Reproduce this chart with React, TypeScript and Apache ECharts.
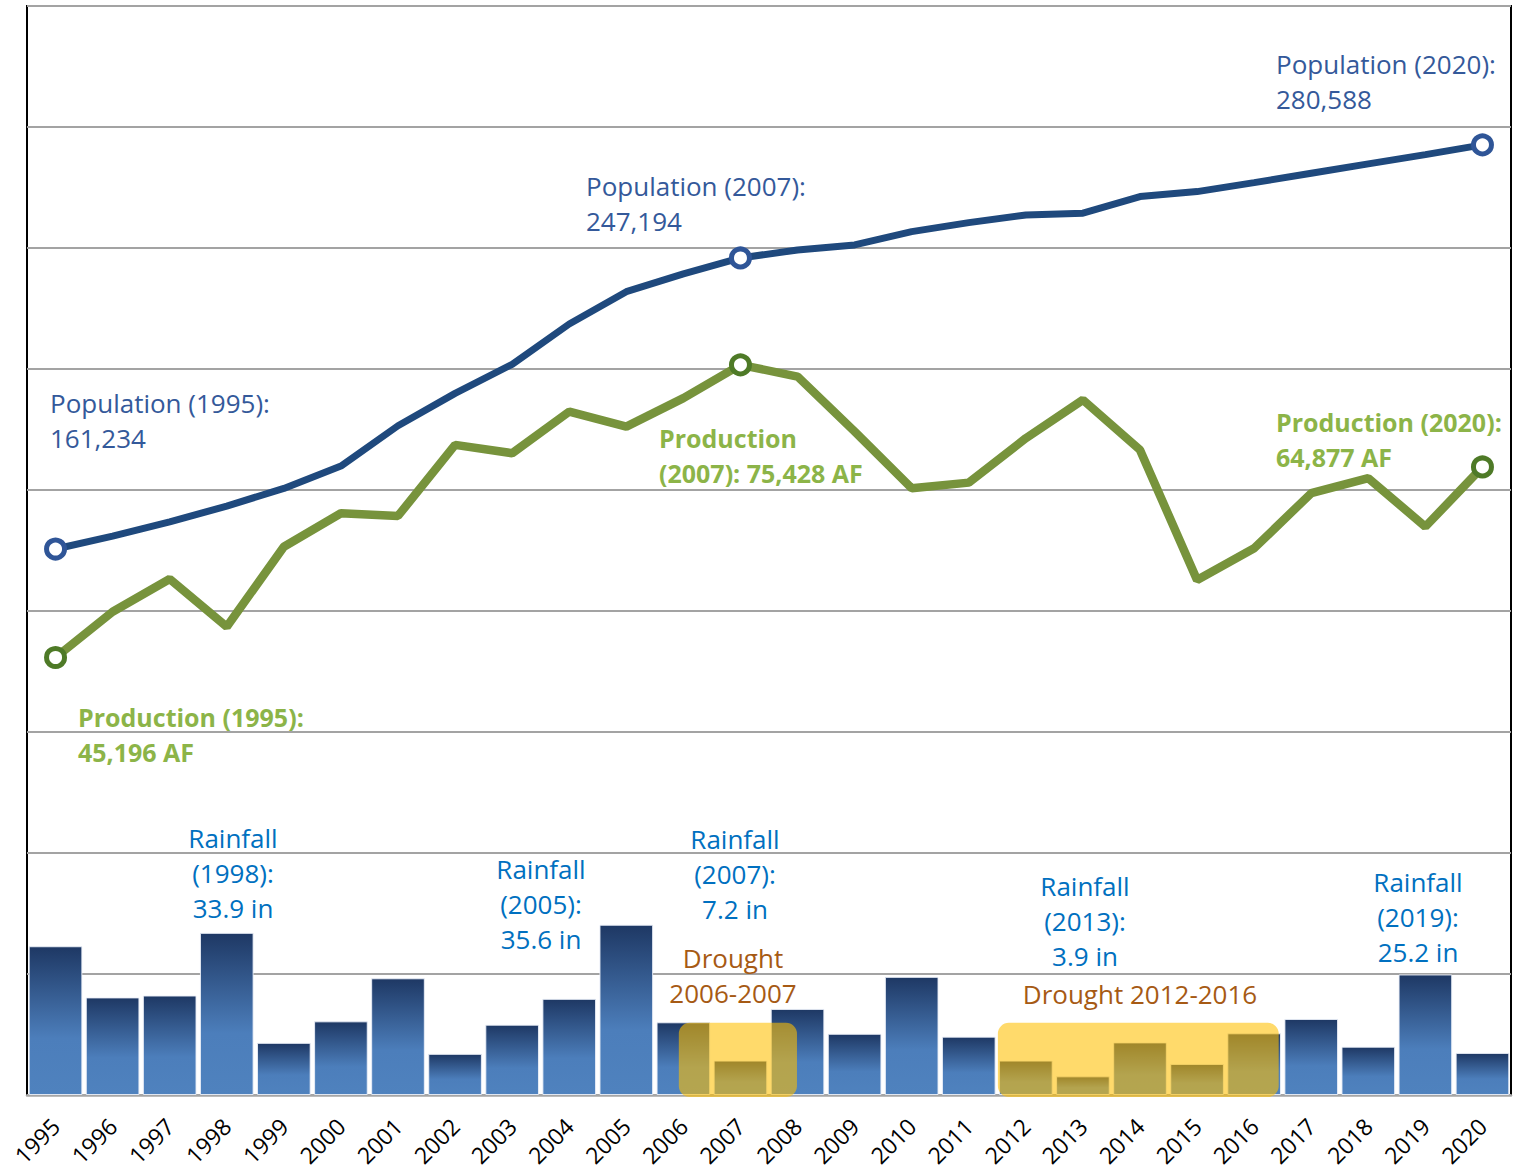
import React, { useEffect, useRef } from "react";
import * as echarts from "echarts";

// ---------- DATA ----------
const years = [
  "1995", "1996", "1997", "1998", "1999", "2000", "2001", "2002", "2003",
  "2004", "2005", "2006", "2007", "2008", "2009", "2010", "2011", "2012",
  "2013", "2014", "2015", "2016", "2017", "2018", "2019", "2020",
];

// Rainfall (inches)
const rainfallIn = [
  31.1, 20.4, 20.8, 33.9, 10.9, 15.4, 24.4, 8.6, 14.7, 20.1, 35.6, 15.2, 7.2,
  18.0, 12.8, 24.7, 12.2, 7.2, 3.9, 11.0, 6.5, 12.9, 15.9, 10.1, 25.2, 8.8,
];

// Population
const population = [
  161234, 165040, 169270, 173910, 179140, 185730, 197640, 207210, 215780,
  227690, 237230, 242470, 247194, 249560, 251030, 254970, 257620, 259900,
  260400, 265310, 266790, 269440, 272220, 274970, 277720, 280588,
];

// Production (acre-feet)
const productionAF = [
  45196, 49920, 53300, 48370, 56640, 60100, 59820, 67160, 66300, 70600, 69050,
  71990, 75428, 74220, 68540, 62680, 63260, 67850, 71810, 66640, 53200, 56480,
  62170, 63720, 58710, 64877,
];

const highlightYears = ["1995", "2007", "2020"];
const droughtPeriods: [string, string][] = [
  ["2006", "2007"],
  ["2012", "2016"],
];

// ---------- LAYOUT / STYLE ----------
const FONT = "'Open Sans', 'Noto Sans', sans-serif";
const POP_LINE = "#1F497D";
const POP_MARK = "#2F5597";
const POP_TEXT = "#34599A";
const PROD_LINE = "#77933C";
const PROD_MARK = "#4E7A27";
const PROD_TEXT = "#8CB448";
const RAIN_TEXT = "#0070C0";
const DROUGHT_TEXT = "#A65A14";

// drought box extents, in category-index offsets from start/end years
const droughtBoxLayout = [
  { fromOffset: -0.08, toOffset: 0.99, topIn: 15.1 },
  { fromOffset: -0.49, toOffset: 0.43, topIn: 15.1 },
];

type Note = {
  text: string;
  x: number;
  y: number;
  color: string;
  bold?: boolean;
  size: number;
  align: "left" | "center";
};

const notes: Note[] = [
  { text: "Population (2020):\n280,588", x: 1276, y: 81.7, color: POP_TEXT, size: 26, align: "left" },
  { text: "Population (2007):\n247,194", x: 586, y: 203.6, color: POP_TEXT, size: 26, align: "left" },
  { text: "Population (1995):\n161,234", x: 50, y: 420.3, color: POP_TEXT, size: 26, align: "left" },
  { text: "Production\n(2007): 75,428 AF", x: 659, y: 455.5, color: PROD_TEXT, bold: true, size: 25, align: "left" },
  { text: "Production (2020):\n64,877 AF", x: 1276, y: 439.6, color: PROD_TEXT, bold: true, size: 25, align: "left" },
  { text: "Production (1995):\n45,196 AF", x: 78, y: 734.5, color: PROD_TEXT, bold: true, size: 25, align: "left" },
  { text: "Rainfall\n(1998):\n33.9 in", x: 233, y: 872.5, color: RAIN_TEXT, size: 26, align: "center" },
  { text: "Rainfall\n(2005):\n35.6 in", x: 541, y: 903.5, color: RAIN_TEXT, size: 26, align: "center" },
  { text: "Rainfall\n(2007):\n7.2 in", x: 735, y: 874, color: RAIN_TEXT, size: 26, align: "center" },
  { text: "Rainfall\n(2013):\n3.9 in", x: 1085, y: 921, color: RAIN_TEXT, size: 26, align: "center" },
  { text: "Rainfall\n(2019):\n25.2 in", x: 1418, y: 917, color: RAIN_TEXT, size: 26, align: "center" },
  { text: "Drought\n2006-2007", x: 733, y: 975, color: DROUGHT_TEXT, size: 26, align: "center" },
  { text: "Drought 2012-2016", x: 1140, y: 994, color: DROUGHT_TEXT, size: 26, align: "center" },
];

function markerData(values: number[], border: string) {
  return values.map((v, i) =>
    highlightYears.includes(years[i])
      ? {
          value: v,
          symbol: "circle",
          symbolSize: 18,
          itemStyle: { color: "#FFFFFF", borderColor: border, borderWidth: 5 },
        }
      : v
  );
}

function buildOption(): any {
  return {
    animation: false,
    backgroundColor: "#FFFFFF",
    grid: {
      left: 27,
      right: 13,
      top: 6,
      bottom: 76,
      show: true,
      borderColor: "#000000",
      borderWidth: 2,
      containLabel: false,
    },
    xAxis: {
      type: "category",
      data: years,
      boundaryGap: true,
      axisLine: { lineStyle: { color: "#A6A6A6", width: 2.5 } },
      axisTick: { alignWithLabel: true, length: 6, lineStyle: { color: "#A6A6A6", width: 2 } },
      axisLabel: {
        interval: 0,
        rotate: 45,
        margin: 27,
        fontSize: 23,
        color: "#000000",
        fontFamily: FONT,
      },
      splitLine: { show: false },
    },
    yAxis: [
      {
        type: "value",
        min: 0,
        max: 112500,
        interval: 12500,
        axisLabel: { show: false },
        axisLine: { show: false },
        axisTick: { show: false },
        splitLine: { show: true, lineStyle: { color: "#A3A3A3", width: 2 } },
      },
      {
        type: "value",
        min: 0,
        max: 321600,
        show: false,
        splitLine: { show: false },
      },
      {
        type: "value",
        min: 0,
        max: 227.7,
        show: false,
        splitLine: { show: false },
      },
    ],
    series: [
      {
        name: "Rainfall",
        type: "bar",
        yAxisIndex: 2,
        data: rainfallIn,
        barCategoryGap: "6%",
        z: 2,
        itemStyle: {
          borderColor: "rgba(235,240,248,0.9)",
          borderWidth: 1,
          color: new echarts.graphic.LinearGradient(0, 0, 0, 1, [
            { offset: 0, color: "#1E3864" },
            { offset: 0.62, color: "#4C7EBB" },
            { offset: 1, color: "#4F82BE" },
          ]),
        },
      },
      {
        name: "Production",
        type: "line",
        yAxisIndex: 0,
        data: markerData(productionAF, PROD_MARK),
        symbol: "none",
        z: 4,
        lineStyle: { color: PROD_LINE, width: 8.5 },
        itemStyle: { color: PROD_LINE },
      },
      {
        name: "Population",
        type: "line",
        yAxisIndex: 1,
        data: markerData(population, POP_MARK),
        symbol: "none",
        z: 5,
        lineStyle: { color: POP_LINE, width: 7 },
        itemStyle: { color: POP_LINE },
      },
    ],
  };
}

function buildGraphics(chart: echarts.ECharts): any[] {
  const p0 = chart.convertToPixel({ xAxisIndex: 0 }, years[0]) as number;
  const p1 = chart.convertToPixel({ xAxisIndex: 0 }, years[1]) as number;
  const band = p1 - p0;
  const xAt = (idx: number) => p0 + band * idx;
  const yRain = (v: number) => chart.convertToPixel({ yAxisIndex: 2 }, v) as number;

  const out: any[] = [];
  droughtPeriods.forEach(([s, e], k) => {
    const lay = droughtBoxLayout[k];
    const x0 = xAt(years.indexOf(s) + lay.fromOffset);
    const x1 = xAt(years.indexOf(e) + lay.toOffset);
    const yTop = yRain(lay.topIn);
    const yBot = yRain(0) + 2;
    out.push({
      type: "rect",
      silent: true,
      z: 10,
      shape: { x: x0, y: yTop, width: x1 - x0, height: yBot - yTop, r: 11 },
      style: { fill: "rgba(255,192,0,0.58)" },
    });
  });

  notes.forEach((n) => {
    out.push({
      type: "text",
      silent: true,
      z: 20,
      x: n.x,
      y: n.y,
      style: {
        text: n.text,
        fill: n.color,
        fontSize: n.size,
        fontFamily: FONT,
        fontWeight: n.bold ? "bold" : "normal",
        align: n.align,
        verticalAlign: "middle",
        lineHeight: 35,
      },
    });
  });
  return out;
}

export default function App() {
  const ref = useRef<HTMLDivElement>(null);
  useEffect(() => {
    if (!ref.current) return;
    const chart = echarts.init(ref.current, null, { renderer: "svg" });
    chart.setOption(buildOption());
    chart.setOption({ graphic: buildGraphics(chart) });
    return () => chart.dispose();
  }, []);
  return (
    <div
      ref={ref}
      style={{
        position: "absolute",
        left: 0,
        top: 0,
        width: 1524,
        height: 1171,
        background: "#FFFFFF",
      }}
    />
  );
}
